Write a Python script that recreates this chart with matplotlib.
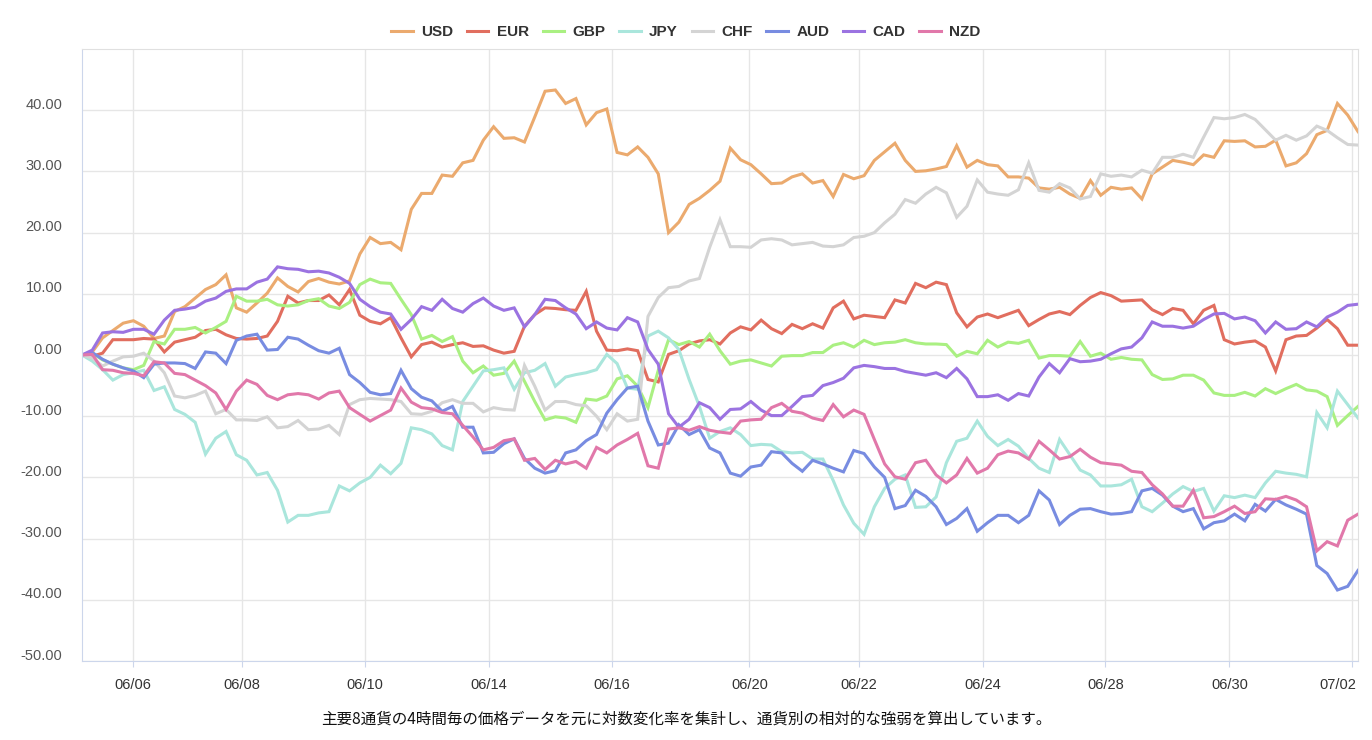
import numpy as np
import matplotlib
matplotlib.use("Agg")
import matplotlib.pyplot as plt
from matplotlib.transforms import ScaledTranslation

plt.rcParams['font.family'] = ['Liberation Sans', 'Noto Sans CJK JP', 'DejaVu Sans']

# currency strength index, 4h steps (125 points)
usd = [0, 0.5, 2.8, 4.0, 5.2, 5.6, 4.7, 2.7, 3.1, 7.1, 7.9, 9.3, 10.7, 11.5, 13.1, 7.7, 7.0, 8.5, 10.1, 12.6, 11.2, 10.3, 12.0, 12.5, 11.9,
       11.6, 12.1, 16.5, 19.2, 18.2, 18.4, 17.2, 23.8, 26.4, 26.4, 29.4, 29.2, 31.4, 31.8, 35.1, 37.3, 35.4, 35.5, 34.8, 38.9, 43.1, 43.3, 41.1, 41.9, 37.6,
       39.6, 40.2, 33.1, 32.7, 34.0, 32.3, 29.6, 20.0, 21.7, 24.6, 25.6, 26.9, 28.4, 33.8, 31.9, 31.1, 29.6, 28.0, 28.1, 29.1, 29.6, 28.1, 28.5, 25.9, 29.5,
       28.8, 29.3, 31.8, 33.2, 34.6, 31.8, 30.0, 30.1, 30.4, 30.8, 34.2, 30.7, 31.8, 31.1, 30.9, 29.1, 29.1, 28.9, 27.3, 27.1, 27.4, 26.3, 25.6, 28.5, 26.1,
       27.4, 27.1, 27.3, 25.5, 29.6, 30.7, 31.8, 31.5, 31.1, 32.7, 32.3, 35.0, 34.9, 35.0, 34.0, 34.1, 35.1, 30.9, 31.4, 32.9, 36.0, 36.7, 41.1, 39.2, 36.5]
eur = [0, -0.2, 0.3, 2.5, 2.5, 2.5, 2.7, 2.6, 0.5, 2.1, 2.5, 2.9, 4.0, 4.2, 3.3, 2.7, 2.6, 2.7, 3.1, 5.5, 9.6, 8.5, 8.9, 8.9, 9.8,
       8.2, 10.7, 6.5, 5.5, 5.1, 6.1, 2.8, -0.3, 1.7, 2.1, 1.3, 1.7, 2.0, 1.4, 1.5, 0.8, 0.3, 0.6, 4.7, 6.6, 7.7, 7.6, 7.4, 7.3, 10.4,
       3.9, 0.8, 0.7, 1.0, 0.7, -4.0, -4.4, 0.1, 0.7, 1.8, 2.3, 2.5, 1.8, 3.6, 4.6, 4.1, 5.7, 4.3, 3.5, 5.0, 4.3, 5.1, 4.4, 7.7, 8.8,
       5.9, 6.5, 6.3, 6.1, 9.0, 8.5, 11.7, 11.0, 11.9, 11.5, 6.9, 4.6, 6.2, 6.7, 6.1, 6.7, 7.3, 4.8, 5.8, 6.7, 7.1, 6.6, 8.1, 9.4, 10.2,
       9.7, 8.8, 8.9, 9.0, 7.4, 6.6, 7.6, 7.3, 5.1, 7.3, 8.1, 2.5, 1.8, 2.1, 2.3, 1.3, -2.6, 2.5, 3.1, 3.2, 4.4, 5.8, 4.3, 1.6, 1.6]
gbp = [0, 0.3, -0.8, -1.5, -2.1, -2.4, -1.7, 2.2, 1.8, 4.2, 4.2, 4.5, 3.6, 4.5, 5.5, 9.6, 8.8, 8.8, 9.1, 8.2, 8.0, 8.2, 8.9, 9.2, 8.0,
       7.6, 8.6, 11.5, 12.4, 11.8, 11.7, 9.1, 6.6, 2.6, 3.2, 2.2, 3.0, -1.0, -2.9, -1.8, -3.3, -3.0, -1.0, -4.3, -7.6, -10.6, -10.1, -10.3, -11.0, -7.2,
       -7.4, -6.7, -3.9, -3.4, -5.1, -8.6, -2.5, 2.5, 1.7, 2.2, 1.3, 3.4, 0.7, -1.5, -1.0, -0.8, -1.3, -1.8, -0.2, -0.1, -0.1, 0.4, 0.4, 1.6, 2.0,
       1.3, 2.4, 1.7, 2.0, 2.1, 2.5, 2.0, 1.8, 1.8, 1.7, -0.2, 0.6, 0.2, 2.4, 1.3, 2.1, 1.9, 2.4, -0.5, -0.1, -0.1, -0.2, 2.2, -0.2, 0.3,
       -0.7, -0.4, -0.7, -0.8, -3.2, -4.0, -3.9, -3.3, -3.3, -4.1, -6.2, -6.6, -6.6, -6.1, -6.7, -5.5, -6.3, -5.5, -4.8, -5.7, -5.9, -6.8, -11.5, -9.9, -8.4]
jpy = [0, -1.0, -2.4, -4.1, -3.2, -2.9, -2.5, -5.8, -5.2, -8.9, -9.7, -11.0, -16.2, -13.6, -12.5, -16.3, -17.2, -19.6, -19.2, -22.1, -27.3, -26.2, -26.2, -25.8, -25.6,
       -21.4, -22.2, -20.9, -20.0, -18.0, -19.4, -17.7, -11.9, -12.2, -12.9, -14.8, -15.5, -7.6, -5.1, -2.6, -2.4, -2.1, -5.6, -2.9, -2.5, -1.4, -5.1, -3.6, -3.2, -2.9,
       -2.4, 0.1, -1.4, -5.4, -5.6, 3.1, 3.9, 2.8, 0.9, -4.0, -8.4, -13.6, -12.5, -11.9, -13.0, -14.8, -14.6, -14.7, -15.8, -16.0, -15.9, -17.0, -17.0, -20.5, -24.5,
       -27.5, -29.3, -24.8, -21.8, -20.3, -19.6, -24.9, -24.8, -23.2, -17.6, -14.1, -13.6, -10.8, -13.3, -14.8, -13.8, -14.9, -16.9, -18.5, -19.2, -13.8, -16.3, -18.8, -19.6, -21.4,
       -21.4, -21.2, -20.3, -24.8, -25.6, -24.2, -22.7, -21.5, -22.3, -21.8, -25.5, -23.0, -23.3, -22.9, -23.3, -20.9, -19.0, -19.3, -19.5, -19.9, -9.4, -11.9, -5.9, -8.1, -10.3]
chf = [0, -0.5, -1.8, -1.0, -0.3, -0.2, 0.3, -1.0, -2.9, -6.7, -7.0, -6.6, -5.9, -9.6, -8.9, -10.6, -10.6, -10.7, -10.1, -11.9, -11.7, -10.7, -12.2, -12.1, -11.5,
       -13.0, -8.1, -7.3, -7.1, -7.2, -7.3, -7.6, -9.6, -9.7, -9.2, -7.8, -7.3, -7.9, -7.9, -9.3, -8.6, -8.9, -9.0, -1.7, -5.1, -9.0, -7.6, -7.6, -8.1, -8.3,
       -10.0, -12.2, -9.6, -10.8, -10.5, 6.3, 9.4, 11.0, 11.2, 12.1, 12.5, 17.6, 22.1, 17.7, 17.7, 17.6, 18.8, 19.0, 18.8, 18.0, 18.2, 18.4, 17.8, 17.7, 18.0,
       19.2, 19.4, 20.0, 21.6, 23.0, 25.4, 24.8, 26.3, 27.4, 26.5, 22.5, 24.3, 28.6, 26.6, 26.3, 26.1, 27.0, 31.4, 26.9, 26.6, 28.0, 27.3, 25.5, 25.9, 29.6,
       29.2, 29.4, 29.1, 30.2, 29.7, 32.3, 32.3, 32.8, 32.3, 35.6, 38.8, 38.6, 38.8, 39.3, 38.5, 36.8, 35.1, 35.9, 35.1, 35.8, 37.4, 36.7, 35.5, 34.4, 34.3]
aud = [0, 0.4, -0.7, -1.5, -2.1, -2.6, -3.7, -1.5, -1.3, -1.3, -1.4, -2.2, 0.5, 0.3, -1.4, 2.4, 3.1, 3.4, 0.8, 0.9, 2.9, 2.6, 1.6, 0.7, 0.3,
       1.1, -3.2, -4.5, -6.1, -6.5, -6.3, -2.5, -5.5, -6.9, -7.5, -9.2, -8.4, -11.8, -11.8, -16.0, -15.9, -14.5, -13.7, -16.9, -18.5, -19.3, -18.9, -16.0, -15.5, -14.0,
       -13.0, -9.5, -7.3, -5.4, -5.1, -10.8, -14.7, -14.4, -11.4, -13.0, -12.2, -15.2, -16.0, -19.3, -19.8, -18.3, -18.0, -15.8, -16.0, -17.7, -19.0, -17.2, -17.8, -18.5, -19.1,
       -15.6, -16.1, -18.3, -20.0, -25.1, -24.6, -22.1, -23.1, -24.8, -27.7, -26.7, -25.1, -28.8, -27.4, -26.2, -26.2, -27.4, -26.2, -22.2, -23.7, -27.7, -26.2, -25.2, -25.1, -25.6,
       -26.0, -25.9, -25.6, -22.2, -21.8, -22.9, -24.7, -25.6, -25.1, -28.4, -27.4, -27.1, -26.0, -27.1, -24.4, -25.5, -23.6, -24.5, -25.2, -26.0, -34.4, -35.7, -38.4, -37.8, -35.2]
cad = [0, 0.8, 3.6, 3.8, 3.7, 4.2, 4.2, 3.4, 5.7, 7.3, 7.5, 7.8, 8.8, 9.3, 10.4, 10.8, 10.8, 11.9, 12.4, 14.4, 14.1, 14.0, 13.6, 13.7, 13.4,
       12.7, 11.7, 9.1, 7.9, 7.0, 6.7, 4.2, 5.8, 7.9, 7.3, 9.1, 7.6, 7.0, 8.4, 9.3, 8.0, 7.3, 7.7, 4.6, 6.6, 9.1, 8.9, 7.7, 6.7, 4.3,
       5.4, 4.4, 4.1, 6.1, 5.4, 0.9, -1.5, -9.6, -11.8, -10.5, -7.8, -8.6, -10.5, -8.9, -8.8, -7.6, -9.0, -9.9, -9.9, -8.4, -6.8, -6.6, -5.0, -4.5, -3.8,
       -2.1, -1.7, -1.9, -2.2, -2.2, -2.7, -3.0, -3.3, -2.9, -3.7, -2.2, -3.9, -6.8, -6.8, -6.5, -7.4, -6.3, -6.7, -3.6, -1.4, -2.9, -0.6, -1.1, -1.0, -0.7,
       0.2, 1.0, 1.3, 2.8, 5.4, 4.7, 4.7, 4.4, 4.7, 5.8, 6.7, 6.8, 5.9, 6.2, 5.6, 3.6, 5.4, 4.2, 4.3, 5.4, 4.6, 6.2, 7.0, 8.1, 8.3]
nzd = [0, 0.1, -2.4, -2.5, -2.9, -3.0, -3.4, -1.1, -1.3, -3.0, -3.2, -4.1, -5.0, -6.2, -8.9, -5.9, -4.1, -4.8, -6.6, -7.3, -6.5, -6.3, -6.5, -7.2, -6.2,
       -5.9, -8.6, -9.7, -10.8, -9.9, -9.0, -5.4, -7.7, -8.6, -8.8, -9.4, -9.6, -11.5, -13.4, -15.5, -15.1, -14.0, -13.7, -17.2, -16.9, -18.7, -17.2, -17.8, -17.4, -18.5,
       -15.1, -16.0, -14.7, -13.8, -12.8, -18.1, -18.5, -12.1, -11.9, -12.3, -11.7, -12.3, -12.6, -12.8, -10.8, -10.6, -10.5, -8.6, -7.9, -9.2, -9.5, -10.3, -10.7, -8.1, -10.1,
       -9.0, -9.7, -13.8, -17.8, -19.9, -20.3, -17.6, -17.2, -19.6, -20.9, -19.6, -16.9, -19.3, -18.5, -16.3, -15.7, -16.0, -17.0, -14.1, -15.5, -17.0, -16.6, -15.4, -16.7, -17.6,
       -17.8, -18.0, -19.0, -19.2, -21.2, -22.7, -24.7, -24.7, -22.1, -26.6, -26.4, -25.6, -24.7, -25.9, -25.6, -23.5, -23.6, -23.1, -23.7, -24.8, -32.0, -30.5, -31.2, -27.0, -26.0]

currencies = ["USD", "EUR", "GBP", "JPY", "CHF", "AUD", "CAD", "NZD"]
series = [usd, eur, gbp, jpy, chf, aud, cad, nzd]
colors = ["#ebaa6e", "#e16e5f", "#aaf082", "#aae6dc", "#d4d4d4", "#788ce1", "#9b73e1", "#e178aa"]

# date labels sit between 4h samples
tick_pos = [4.96, 15.56, 27.49, 39.55, 51.47, 64.85, 75.52, 87.54, 99.44, 111.5, 123.45]
tick_labels = ["06/06", "06/08", "06/10", "06/14", "06/16", "06/20", "06/22", "06/24", "06/28", "06/30", "07/02"]

caption = "主要8通貨の4時間毎の価格データを元に対数変化率を集計し、通貨別の相対的な強弱を算出しています。"

fig = plt.figure(figsize=(13.72, 7.40), dpi=100)
ax = fig.add_axes([82 / 1372, 1 - 661 / 740, (1358 - 82) / 1372, (661 - 49) / 740])

x = np.arange(len(usd))
for name, vals, c in zip(currencies, series, colors):
    ax.plot(x, vals, color=c, lw=2.2, label=name, solid_joinstyle="miter")

ax.set_xlim(0, len(usd) - 1)
ax.set_ylim(-50, 50)
ax.set_yticks(np.arange(-50, 41, 10))
ax.set_yticklabels([f"{v:.2f}" for v in np.arange(-50, 41, 10)])
ax.set_xticks(tick_pos)
ax.set_xticklabels(tick_labels)

ax.grid(True, color="#e6e6e6", lw=1)
ax.set_axisbelow(True)
for side in ["left", "bottom"]:
    ax.spines[side].set_color("#ccd6eb")
for side in ["top", "right"]:
    ax.spines[side].set_color("#e0e0e0")

ax.tick_params(axis="y", length=0, pad=14, labelsize=10.5, labelcolor="#555555")
ax.tick_params(axis="x", length=4, color="#ccd6eb", pad=8, labelsize=10.5, labelcolor="#333333")

# y labels sit slightly above their gridlines
for lbl in ax.get_yticklabels():
    lbl.set_transform(lbl.get_transform() + ScaledTranslation(0, 7 / 100, fig.dpi_scale_trans))
last = ax.get_xticklabels()[-1]
last.set_horizontalalignment("right")
last.set_transform(last.get_transform() + ScaledTranslation(4 / 100, 0, fig.dpi_scale_trans))

fig.legend(loc="upper center", bbox_to_anchor=(0.5, 0.985), ncol=8, frameon=False,
           handlelength=1.4, handletextpad=0.55, columnspacing=0.9,
           prop={"weight": "bold", "size": 11})
for t in fig.legends[0].get_texts():
    t.set_color("#333333")

fig.text(0.5, 1 - 719 / 740, caption, ha="center", va="center", fontsize=11.2,
         family=["Noto Sans CJK JP", "DejaVu Sans"], color="#111111")

fig.savefig("out.png", dpi=100)
